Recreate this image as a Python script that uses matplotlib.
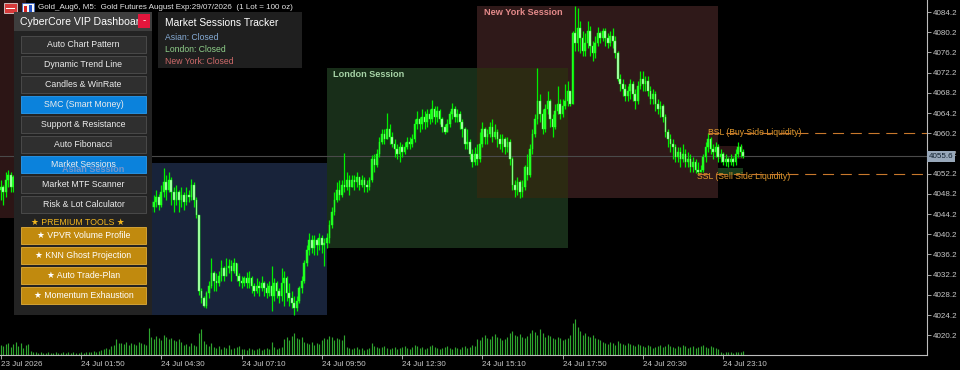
import matplotlib
matplotlib.use("Agg")
import matplotlib.pyplot as plt
import matplotlib.transforms as mtransforms
from matplotlib.patches import Rectangle
import numpy as np

plt.rcParams['font.family'] = ['Liberation Sans', 'DejaVu Sans']

# ---------------- data (M5 bars, Gold_Aug6) ----------------
first_open = 4049.0
closes = [
    4049.5, 4048.5, 4051.0, 4052.0, 4049.5, 4051.5, 4050.5, 4051.5, 4050.0, 4049.5,
    4050.5, 4049.0, 4048.5, 4049.5, 4050.0, 4049.0, 4048.0, 4048.5, 4049.5, 4049.0,
    4050.0, 4049.5, 4050.5, 4051.5, 4051.0, 4052.0, 4052.5, 4051.5, 4052.5, 4053.0,
    4052.0, 4051.0, 4051.5, 4050.5, 4050.0, 4049.0, 4049.5, 4048.5, 4049.0, 4048.0,
    4047.5, 4048.5, 4049.0, 4048.0, 4047.0, 4046.5, 4047.5, 4048.5, 4049.5, 4050.5,
    4050.0, 4051.0, 4052.0, 4051.0, 4050.0, 4049.0, 4048.0, 4047.0, 4047.5, 4046.5,
    4045.5,
    4046.5, 4047.5, 4046.0, 4048.5, 4050.5, 4049.0, 4051.0, 4048.5, 4047.0, 4048.5,
    4047.0, 4048.0, 4046.5, 4048.0, 4047.5, 4050.0, 4047.0, 4044.0, 4029.0,
    4027.5, 4026.0, 4028.5, 4030.0,
    4032.5, 4031.0, 4030.5, 4032.0, 4033.5, 4032.0, 4033.5, 4034.0, 4033.0, 4034.5, 4032.0,
    4031.0, 4030.5, 4031.5, 4030.5, 4031.5, 4030.0, 4029.0,
    4030.0, 4029.5, 4030.5, 4029.5, 4028.5, 4030.0, 4028.0, 4030.5, 4029.0, 4028.0,
    4030.5, 4031.5, 4028.5, 4027.5, 4026.5, 4025.5, 4027.0,
    4029.5, 4031.0, 4034.5, 4037.0, 4039.0, 4037.5, 4039.0, 4038.0, 4039.5, 4038.0, 4038.5, 4039.5,
    4042.0, 4044.5, 4047.0, 4049.0, 4048.0, 4050.0, 4049.5, 4051.0, 4049.5, 4051.0,
    4050.5, 4051.5, 4050.0, 4051.0, 4050.0, 4049.5, 4051.0,
    4055.0, 4054.0, 4056.0, 4058.5, 4060.0, 4059.0, 4061.0, 4059.5, 4058.0, 4057.0,
    4056.0, 4057.5, 4056.5, 4057.5, 4058.5, 4058.0, 4059.0,
    4062.0, 4063.0, 4062.0, 4063.5, 4062.5, 4064.0, 4063.0, 4065.0, 4063.5, 4064.5,
    4063.0, 4061.5, 4060.5, 4062.0, 4064.0, 4065.0, 4063.5, 4064.0, 4062.5, 4061.0,
    4058.0, 4058.5, 4056.0, 4054.5, 4056.0, 4055.0, 4058.0, 4061.0, 4059.5, 4060.0,
    4061.5, 4059.5, 4060.5, 4059.0, 4058.0, 4059.0, 4057.5, 4058.5, 4055.0,
    4050.0, 4049.0, 4050.5, 4048.5, 4049.5, 4053.5, 4052.0, 4057.0, 4060.0, 4063.0,
    4066.5, 4064.0, 4061.0, 4065.0, 4066.5, 4063.0, 4061.5, 4064.5, 4066.0, 4064.0,
    4065.5, 4066.5, 4068.5, 4066.0,
    4080.0, 4078.0, 4081.0, 4079.0, 4076.5, 4078.0, 4080.5, 4077.5, 4076.0, 4078.0,
    4080.0, 4079.0, 4080.5, 4079.0, 4078.0, 4079.5, 4078.5, 4076.0,
    4071.0, 4070.0, 4069.0, 4067.5, 4068.5, 4070.0, 4068.0, 4066.5, 4069.5, 4071.0,
    4070.0, 4070.5, 4068.5, 4067.0, 4068.0, 4066.0, 4065.0, 4065.5, 4063.5,
    4060.5, 4059.0, 4058.0, 4057.5, 4055.5, 4056.5, 4055.0, 4056.0, 4054.5, 4055.0,
    4053.5, 4054.5, 4053.0, 4052.5, 4053.0,
    4055.5, 4057.5, 4059.0, 4057.0, 4056.5, 4057.5, 4055.5, 4056.0, 4054.5, 4055.0,
    4054.5, 4055.0, 4054.5, 4056.0, 4057.5, 4056.5, 4055.6,
]
highs = [
    4051.0, 4050.0, 4052.5, 4053.0, 4052.5, 4052.0, 4052.0, 4052.5, 4051.5, 4050.5,
    4051.5, 4050.5, 4049.5, 4050.5, 4051.0, 4050.5, 4049.5, 4049.5, 4050.5, 4050.5,
    4051.0, 4050.5, 4051.5, 4052.5, 4052.5, 4053.0, 4053.5, 4053.0, 4053.5, 4054.3,
    4053.5, 4052.5, 4052.5, 4052.0, 4051.0, 4050.5, 4050.5, 4050.0, 4050.0, 4049.5,
    4048.5, 4049.5, 4050.0, 4049.5, 4048.5, 4047.5, 4048.5, 4049.5, 4050.5, 4051.5,
    4051.5, 4052.0, 4053.0, 4052.5, 4051.5, 4050.5, 4049.5, 4048.5, 4048.5, 4048.0,
    4047.0,
    4048.0, 4049.0, 4048.2, 4050.0, 4053.3, 4052.0, 4052.5, 4051.5, 4049.5, 4050.0,
    4049.0, 4049.5, 4048.5, 4049.5, 4049.0, 4051.2, 4050.5, 4047.5, 4044.0,
    4029.5, 4028.0, 4029.0, 4031.0,
    4035.5, 4033.0, 4032.5, 4033.0, 4035.0, 4034.0, 4035.5, 4035.2, 4035.0, 4035.5, 4034.0,
    4032.5, 4032.0, 4032.0, 4032.8, 4033.0, 4032.0, 4030.5,
    4031.5, 4031.0, 4032.0, 4031.0, 4030.5, 4031.0, 4034.0, 4031.5, 4031.0, 4029.5,
    4033.5, 4033.0, 4032.0, 4030.5, 4029.0, 4028.0, 4028.0,
    4030.0, 4032.0, 4035.0, 4038.0, 4040.5, 4040.0, 4040.0, 4039.5, 4040.5, 4040.0, 4039.5, 4040.5,
    4043.0, 4045.5, 4048.5, 4050.5, 4051.0, 4051.0, 4056.3, 4052.5, 4052.0, 4052.0,
    4052.0, 4052.5, 4051.5, 4052.0, 4051.5, 4051.0, 4051.5,
    4055.8, 4056.0, 4057.0, 4059.5, 4061.0, 4061.0, 4064.2, 4062.0, 4060.5, 4059.0,
    4058.0, 4058.5, 4058.0, 4058.5, 4059.5, 4059.5, 4060.0,
    4063.0, 4064.5, 4063.5, 4065.0, 4064.5, 4065.0, 4065.0, 4066.8, 4065.5, 4065.5,
    4065.0, 4063.5, 4062.0, 4063.0, 4064.5, 4066.2, 4065.5, 4065.0, 4064.5, 4063.0,
    4061.5, 4061.0, 4059.0, 4057.0, 4057.5, 4058.0, 4060.5, 4062.5, 4061.5, 4061.0,
    4062.5, 4063.0, 4062.0, 4061.0, 4060.0, 4060.0, 4059.5, 4059.5, 4059.0,
    4055.5, 4051.0, 4051.5, 4051.0, 4051.0, 4054.0, 4056.0, 4058.0, 4061.0, 4064.0,
    4073.1, 4068.0, 4065.0, 4066.0, 4068.5, 4067.0, 4064.0, 4066.0, 4069.5, 4067.0,
    4067.0, 4070.0, 4070.5, 4068.5,
    4080.5, 4085.4, 4085.0, 4082.5, 4080.5, 4080.0, 4082.5, 4081.5, 4078.5, 4079.5,
    4081.2, 4080.5, 4081.0, 4081.0, 4080.0, 4080.5, 4081.0, 4079.5,
    4076.5, 4072.0, 4071.0, 4070.0, 4069.5, 4071.0, 4070.5, 4069.0, 4070.5, 4072.5,
    4072.5, 4071.5, 4071.5, 4069.5, 4069.0, 4068.5, 4067.0, 4066.5, 4066.0,
    4064.0, 4061.0, 4060.0, 4059.0, 4058.0, 4057.5, 4057.5, 4058.0, 4057.0, 4056.5,
    4056.0, 4055.5, 4055.0, 4054.5, 4054.0,
    4056.0, 4058.5, 4060.2, 4059.5, 4058.0, 4058.5, 4058.0, 4057.0, 4056.5, 4056.0,
    4055.5, 4056.0, 4055.5, 4057.0, 4058.5, 4058.0, 4057.0,
]
lows = [
    4047.0, 4046.0, 4047.5, 4049.5, 4048.5, 4048.5, 4049.5, 4050.0, 4049.5, 4048.5,
    4049.0, 4048.5, 4047.5, 4048.0, 4049.0, 4048.5, 4047.0, 4047.5, 4048.0, 4048.5,
    4048.5, 4048.5, 4049.0, 4050.0, 4050.0, 4050.5, 4051.5, 4050.5, 4051.0, 4052.0,
    4051.0, 4050.5, 4050.5, 4049.5, 4049.0, 4048.0, 4048.5, 4047.5, 4048.0, 4047.0,
    4046.5, 4047.0, 4048.0, 4047.5, 4046.0, 4045.5, 4046.0, 4047.5, 4048.5, 4049.5,
    4049.0, 4050.0, 4051.0, 4050.0, 4049.0, 4048.0, 4047.0, 4046.0, 4046.5, 4045.5,
    4044.5,
    4044.5, 4045.5, 4045.0, 4045.5, 4047.5, 4047.0, 4048.5, 4046.0, 4044.5, 4046.0,
    4044.5, 4045.5, 4045.0, 4046.0, 4046.5, 4047.0, 4045.5, 4043.5, 4028.2,
    4026.5, 4025.8, 4025.5, 4027.5,
    4029.5, 4029.0, 4029.0, 4030.0, 4031.0, 4031.0, 4032.0, 4032.5, 4031.0, 4032.5, 4031.0,
    4030.0, 4029.5, 4030.0, 4029.5, 4029.5, 4028.5, 4028.0,
    4028.5, 4028.0, 4029.0, 4028.0, 4027.5, 4028.0, 4025.0, 4027.0, 4027.5, 4026.5,
    4027.0, 4026.0, 4027.0, 4026.0, 4025.5, 4024.2, 4025.0,
    4026.5, 4028.5, 4030.5, 4034.0, 4036.0, 4036.5, 4036.0, 4036.0, 4037.0, 4036.5, 4034.0, 4037.5,
    4038.5, 4041.5, 4044.0, 4046.5, 4047.0, 4047.5, 4048.5, 4049.0, 4048.0, 4049.5,
    4049.0, 4049.5, 4049.0, 4049.5, 4048.5, 4048.5, 4049.0,
    4050.5, 4052.5, 4053.5, 4055.5, 4058.0, 4058.0, 4059.0, 4058.0, 4057.5, 4055.5,
    4055.0, 4054.5, 4055.5, 4056.0, 4057.0, 4057.0, 4057.5,
    4058.5, 4061.0, 4060.5, 4061.0, 4061.0, 4061.5, 4062.0, 4062.5, 4062.0, 4062.5,
    4062.0, 4060.5, 4060.0, 4060.5, 4061.5, 4063.0, 4062.5, 4062.5, 4061.0, 4059.5,
    4057.0, 4057.0, 4055.0, 4053.5, 4054.0, 4054.0, 4054.5, 4057.5, 4058.0, 4058.0,
    4059.5, 4058.5, 4059.0, 4057.5, 4057.0, 4056.5, 4056.0, 4056.5, 4054.0,
    4049.0, 4047.5, 4048.0, 4047.4, 4047.5, 4049.0, 4051.0, 4051.5, 4056.0, 4059.5,
    4062.0, 4062.5, 4060.0, 4060.5, 4064.0, 4061.5, 4059.5, 4061.0, 4064.0, 4063.0,
    4063.5, 4065.0, 4065.5, 4065.5,
    4066.0, 4076.5, 4076.5, 4076.0, 4075.5, 4075.5, 4077.0, 4075.5, 4074.5, 4075.0,
    4077.5, 4078.0, 4078.5, 4077.5, 4077.0, 4077.5, 4077.0, 4075.0,
    4070.5, 4068.5, 4067.5, 4066.5, 4066.5, 4067.0, 4066.5, 4065.0, 4066.0, 4069.0,
    4068.5, 4068.5, 4067.5, 4066.0, 4066.0, 4064.5, 4064.0, 4063.5, 4062.5,
    4059.5, 4057.5, 4056.5, 4055.0, 4054.5, 4054.5, 4053.5, 4054.5, 4053.5, 4053.5,
    4052.5, 4052.5, 4052.4, 4052.2, 4052.6,
    4052.5, 4054.5, 4056.5, 4056.0, 4055.0, 4055.5, 4054.5, 4054.5, 4054.0, 4053.8,
    4053.5, 4054.0, 4053.8, 4054.0, 4055.5, 4055.5, 4055.2,
]
volumes = [
    1000, 900, 1100, 1200, 800, 1100, 1300, 900, 1200, 700,
    1000, 1100, 400, 300, 350, 250, 300, 200, 250, 300,
    200, 250, 300, 200, 250, 300, 250, 300, 250, 300,
    200, 250, 300, 250, 300, 350, 300, 400, 300, 450,
    500, 600, 700, 600, 900, 1000, 1600, 1200, 1200, 1100,
    1300, 1000, 1200, 1100, 1000, 1300, 1200, 1100, 1000, 2700,
    1800, 1600, 1900, 1700, 1500, 2000, 1800, 1600, 1700, 1500,
    1400, 1600, 1300, 1000, 1100, 900, 1200, 1000, 900, 2200,
    2600, 1400, 1100, 900, 1200, 800, 700, 900, 600, 800,
    700, 1000, 600, 700, 800, 900, 600, 600, 500, 700,
    600, 500, 600, 700, 500, 600, 700, 600, 1300, 800,
    600, 700, 800, 1600, 1800, 1500, 1900, 2200, 1700, 1600,
    1800, 1300, 1200, 1100, 1300, 1000, 1200, 1100, 1500, 1700,
    1600, 1900, 1800, 1500, 1700, 1600, 1500, 2000, 800, 700,
    600, 700, 800, 600, 700, 500, 600, 700, 1200, 900,
    800, 700, 800, 900, 700, 600, 700, 800, 600, 700,
    800, 900, 700, 600, 800, 1000, 900, 700, 800, 600,
    700, 900, 1000, 800, 700, 600, 700, 800, 900, 700,
    600, 800, 700, 600, 800, 900, 700, 800, 1000, 900,
    1600, 1500, 1800, 2000, 1700, 1600, 1900, 2100, 1800, 1700,
    1500, 1600, 1800, 2200, 2400, 2000, 1900, 2100, 1800, 1700,
    1900, 2200, 2500, 2300, 2000, 2600, 2200, 1800, 2000, 1900,
    1700, 1600, 1800, 1700, 1500, 1600, 1700, 2000, 3200, 3600,
    2800, 2400, 2000, 2200, 1900, 1800, 2000, 1700, 1600, 1500,
    1300, 1200, 1100, 1300, 1200, 1000, 1400, 1200, 1100, 1000,
    1200, 1100, 1000, 900, 1100, 1000, 900, 800, 1000, 900,
    700, 800, 900, 1000, 800, 900, 1100, 900, 800, 700,
    900, 800, 1000, 900, 700, 800, 900, 700, 800, 900,
    1000, 800, 700, 900, 800, 700, 600, 300, 250, 300,
    350, 300, 250, 300, 350, 300, 400,
]

time_ticks = [0, 32, 64, 96, 128, 160, 192, 224, 256, 288]
time_labels = ['23 Jul 2026', '24 Jul 01:50', '24 Jul 04:30', '24 Jul 07:10', '24 Jul 09:50',
               '24 Jul 12:30', '24 Jul 15:10', '24 Jul 17:50', '24 Jul 20:30', '24 Jul 23:10']
price_ticks = [4020.2, 4024.2, 4028.2, 4032.2, 4036.2, 4040.2, 4044.2, 4048.2, 4052.2,
               4056.2, 4060.2, 4064.2, 4068.2, 4072.2, 4076.2, 4080.2, 4084.2]

session_names = ['Asian Session', 'London Session', 'New York Session']
session_start = [22, 130, 190]
session_end = [130, 226, 286]
prev_ny_start, prev_ny_end, prev_ny_hi, prev_ny_lo = -60, 10, 4095.0, 4043.4

bsl_bar, ssl_bar = 282, 278
ob_bear = (286, 296, 4055.0, 4057.6)
ob_bull = (286, 296, 4051.9, 4053.4)

buttons = ['Auto Chart Pattern', 'Dynamic Trend Line', 'Candles & WinRate', 'SMC (Smart Money)',
           'Support & Resistance', 'Auto Fibonacci', 'Market Sessions', 'Market MTF Scanner',
           'Risk & Lot Calculator']
active_buttons = ['SMC (Smart Money)', 'Market Sessions']
premium = ['★ VPVR Volume Profile', '★ KNN Ghost Projection', '★ Auto Trade-Plan',
           '★ Momentum Exhaustion']
tracker_lines = ['Asian: Closed', 'London: Closed', 'New York: Closed']

# ---------------- figure ----------------
W, H = 960, 370
fig = plt.figure(figsize=(W / 100, H / 100), dpi=100, facecolor='black')
ax = fig.add_axes([0, 15 / H, 927 / W, 355 / H])
axv = ax.twinx()
ax.set_zorder(2)
axv.set_zorder(1)
ax.patch.set_visible(False)
axv.patch.set_visible(False)

n = min(len(closes), len(highs), len(lows), len(volumes))
x = np.arange(n)
c = np.array(closes[:n])
o = np.array([first_open] + closes[:n - 1])
hi = np.maximum(np.array(highs[:n]), np.maximum(o, c))
lo = np.minimum(np.array(lows[:n]), np.minimum(o, c))

ax.set_xlim(-0.3, 369.3)
ax.set_ylim(4016.28, 4086.58)
axv.set_ylim(0, 35500)

# volumes
axv.vlines(x, 0, volumes[:n], color='#2ea52e', lw=0.85)
axv.set_yticks([])
for s in axv.spines.values():
    s.set_visible(False)

# sessions
sess_fill = ['#18233a', '#182e19', '#2f1919']
sess_text = ['#7396cc', '#a6d3a6', '#e48a8a']
ax.add_patch(Rectangle((prev_ny_start, prev_ny_lo), prev_ny_end - prev_ny_start,
                       prev_ny_hi - prev_ny_lo, facecolor='#2c1515', edgecolor='none', zorder=1))
sess_hi, sess_lo = [], []
for i in range(3):
    s0, s1 = session_start[i], session_end[i]
    shi = hi[s0:s1].max()
    slo = lo[s0:s1].min()
    sess_hi.append(shi)
    sess_lo.append(slo)
    ax.add_patch(Rectangle((s0, slo), s1 - s0, shi - slo, facecolor=sess_fill[i],
                           edgecolor='none', zorder=1))
# London / New York overlap
ox0, ox1 = session_start[2], session_end[1]
oy0, oy1 = max(sess_lo[1], sess_lo[2]), min(sess_hi[1], sess_hi[2])
ax.add_patch(Rectangle((ox0, oy0), ox1 - ox0, oy1 - oy0, facecolor='#2c2a12',
                       edgecolor='none', zorder=1.5))

# order blocks near the end
ax.add_patch(Rectangle((ob_bear[0], ob_bear[2]), ob_bear[1] - ob_bear[0], ob_bear[3] - ob_bear[2],
                       facecolor='#2a1414', edgecolor='none', zorder=1.6))
ax.add_patch(Rectangle((ob_bull[0], ob_bull[2]), ob_bull[1] - ob_bull[0], ob_bull[3] - ob_bull[2],
                       facecolor='#173a1a', edgecolor='none', zorder=1.6))

# current price line
ax.axhline(c[-1], color='#4a4a4a', lw=0.8, zorder=2)

# candles
ax.vlines(x, lo, hi, color='#00ee00', lw=0.9, zorder=4)
bull = c >= o
body = np.where(np.abs(c - o) < 0.15, 0.15, c - o)
ax.bar(x[bull], body[bull], bottom=o[bull], width=0.65, color='#22ff22',
       edgecolor='#22ff22', linewidth=0.3, zorder=5)
ax.bar(x[~bull], body[~bull], bottom=o[~bull], width=0.65, color='#b8ffb8',
       edgecolor='#33ff33', linewidth=0.3, zorder=5)

# liquidity lines
bsl = hi[bsl_bar]
ssl = lo[ssl_bar]
xr = ax.get_xlim()[1]
ax.text(bsl_bar, bsl + 0.2, 'BSL (Buy Side Liquidity)', color='#e39a2e', fontsize=6.2,
        ha='left', va='center', zorder=6)
ax.text(ssl_bar - 0.5, ssl - 0.6, 'SSL (Sell Side Liquidity)', color='#e39a2e', fontsize=6.2,
        ha='left', va='center', zorder=6)
ax.plot([bsl_bar, xr], [bsl, bsl], color='#c8782c', lw=0.8, ls=(0, (10, 6)), zorder=7)
ax.plot([ssl_bar, xr], [ssl, ssl], color='#c8782c', lw=0.8, ls=(0, (10, 6)), zorder=7)

# axes styling
for k in ['top', 'left']:
    ax.spines[k].set_visible(False)
for k in ['right', 'bottom']:
    ax.spines[k].set_color('#bdbdbd')
    ax.spines[k].set_linewidth(0.8)
ax.yaxis.tick_right()
ax.set_yticks(price_ticks)
ax.set_yticklabels([f'{p:.1f}' for p in price_ticks])
ax.set_xticks(time_ticks)
ax.set_xticklabels(time_labels, ha='left')
ax.tick_params(axis='y', direction='out', length=3, width=0.6, color='#bdbdbd',
               labelcolor='#c8c8c8', labelsize=5.8, pad=1)
ax.tick_params(axis='x', direction='out', length=3, width=0.6, color='#bdbdbd',
               labelcolor='#c8c8c8', labelsize=5.8, pad=1)

# current price label on the price axis
blend = mtransforms.blended_transform_factory(ax.transAxes, ax.transData)
ax.text(1.002, c[-1], f'{c[-1]:.1f}', transform=blend, ha='left', va='center', fontsize=5.8,
        color='#10202e', zorder=50, clip_on=False,
        bbox=dict(boxstyle='square,pad=0.2', fc='#98a8ba', ec='none'))

# ---------------- UI overlay in pixel coordinates ----------------
px = mtransforms.Affine2D().scale(1 / W, -1 / H).translate(0, 1) + fig.transFigure


def box(x0, y0, w, h, fc, ec='none', lw=0.0, z=30):
    r = Rectangle((x0, y0), w, h, transform=px, facecolor=fc, edgecolor=ec,
                  linewidth=lw, zorder=z, clip_on=False)
    ax.add_artist(r)


def label(x0, y0, s, size, color, ha='left', va='center', weight='normal', z=32):
    ax.text(x0, y0, s, transform=px, fontsize=size, color=color, ha=ha, va=va,
            fontweight=weight, zorder=z, clip_on=False)


# header
box(4, 3, 13, 10, '#d83a3a', '#f0f0f0', 0.5)
for yy in (5.5, 8, 10.5):
    box(6, yy, 9, 0.8, '#ffffff', z=31)
box(22, 3, 12, 10, '#f4f4f4', '#2c5fd0', 0.5)
box(24, 6, 3, 6, '#d82020', z=31)
box(28.5, 4.5, 3, 7.5, '#2050c8', z=31)
label(38, 7.5, 'Gold_Aug6, M5:  Gold Futures August Exp:29/07/2026  (1 Lot = 100 oz)', 5.75, '#e6e6e6')

# dashboard
box(14, 12, 138, 303, '#232323')
box(14, 12, 138, 19, '#3e3e3e', z=30.5)
label(20, 22, 'CyberCore VIP Dashboard', 7.6, '#ffffff', z=31)
box(138, 14, 12, 14, '#e3163c', z=33)
label(144, 20.5, '-', 7, '#ffffff', ha='center', z=34)

for i, name in enumerate(buttons):
    y0 = 36 + 20 * i
    if name in active_buttons:
        box(21, y0, 125, 17, '#0b82dc', '#2a9cf0', 0.6, z=31)
    else:
        box(21, y0, 125, 17, '#2f2f2f', '#4f4f4f', 0.6, z=31)
    label(83.5, y0 + 8.8, name, 6.3, '#ececec', ha='center', z=32)

label(31, 222, '★ PREMIUM TOOLS ★', 6.3, '#f2b61e', z=32)
for i, name in enumerate(premium):
    y0 = 227 + 20 * i
    box(21, y0, 125, 17, '#c18a0e', '#e2ae3a', 0.6, z=31)
    label(83.5, y0 + 8.8, name, 6.3, '#ffffff', ha='center', z=32)

# market sessions tracker
box(158, 12, 144, 56, '#1f1f1f')
label(165, 22.5, 'Market Sessions Tracker', 7.4, '#ffffff', z=31)
for i, (t, col) in enumerate(zip(tracker_lines, ['#86acd6', '#8fd08a', '#cf6a6a'])):
    label(165, 37 + 12.5 * i, t, 6.2, col, z=31)

# session labels (drawn above panels)
for i in range(3):
    ax.annotate(session_names[i], xy=(session_start[i], sess_hi[i]), xytext=(4.5, -1.5),
                textcoords='offset points', fontsize=6.6, fontweight='bold', color=sess_text[i],
                ha='left', va='top', zorder=60, annotation_clip=False)

fig.savefig('out.png', dpi=100, facecolor='black')
